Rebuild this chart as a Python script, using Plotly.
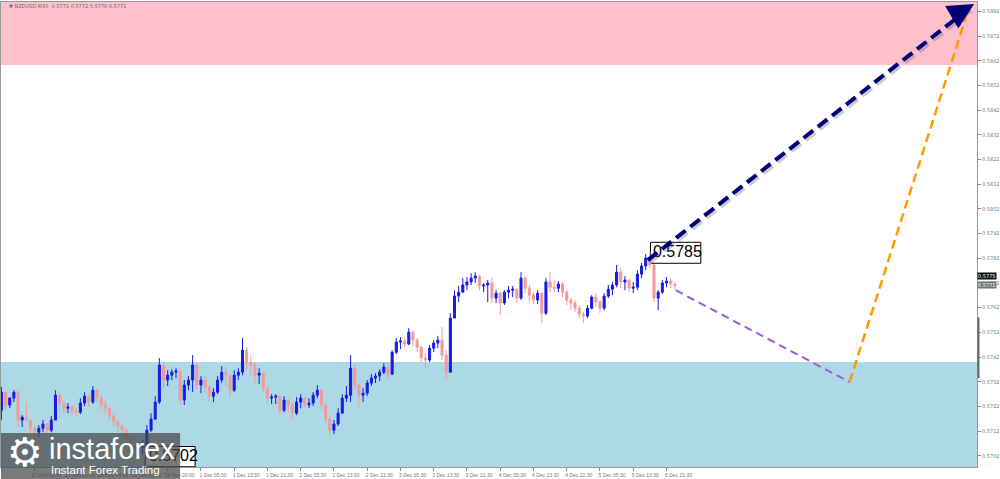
import plotly.graph_objects as go

# ---------------- data ----------------
title_text = "\u25BC NZDUSD,M30  0.5771 0.5772 0.5770 0.5771"

first_open = 0.57205
closes = [
    0.57278, 0.57226, 0.57254, 0.57278, 0.57165, 0.57177, 0.57165, 0.57132, 0.57116, 0.57132,
    0.57149, 0.57124, 0.57165, 0.57266, 0.57234, 0.57213, 0.57218, 0.57201, 0.57197, 0.57234,
    0.57262, 0.57238, 0.57286, 0.57254, 0.57226, 0.57213, 0.57181, 0.57157, 0.57141, 0.57124,
    0.57092, 0.57060, 0.57043, 0.57056, 0.57064, 0.57124, 0.57169, 0.57238, 0.57388, 0.57327,
    0.57347, 0.57359, 0.57363, 0.57246, 0.57307, 0.57327, 0.57388, 0.57307, 0.57327, 0.57299,
    0.57262, 0.57278, 0.57327, 0.57359, 0.57347, 0.57286, 0.57347, 0.57359, 0.57448, 0.57400,
    0.57388, 0.57347, 0.57355, 0.57294, 0.57254, 0.57258, 0.57262, 0.57205, 0.57246, 0.57226,
    0.57193, 0.57238, 0.57254, 0.57226, 0.57234, 0.57266, 0.57286, 0.57226, 0.57169, 0.57124,
    0.57149, 0.57193, 0.57254, 0.57266, 0.57375, 0.57307, 0.57266, 0.57274, 0.57315, 0.57335,
    0.57343, 0.57359, 0.57380, 0.57351, 0.57440, 0.57481, 0.57485, 0.57473, 0.57521, 0.57489,
    0.57460, 0.57416, 0.57408, 0.57456, 0.57477, 0.57489, 0.57428, 0.57359, 0.57578, 0.57667,
    0.57683, 0.57712, 0.57724, 0.57740, 0.57748, 0.57708, 0.57712, 0.57720, 0.57659, 0.57679,
    0.57639, 0.57683, 0.57691, 0.57695, 0.57659, 0.57740, 0.57699, 0.57671, 0.57651, 0.57679,
    0.57598, 0.57724, 0.57703, 0.57699, 0.57716, 0.57683, 0.57651, 0.57639, 0.57618, 0.57594,
    0.57586, 0.57618, 0.57663, 0.57643, 0.57618, 0.57667, 0.57695, 0.57712, 0.57764, 0.57724,
    0.57732, 0.57699, 0.57703, 0.57756, 0.57789, 0.57821, 0.57793, 0.57659, 0.57683, 0.57720,
    0.57728, 0.57716, 0.57710,
]
highs = [
    0.57299, 0.57266, 0.57258, 0.57286, 0.57286, 0.57185, 0.57238, 0.57165, 0.57145, 0.57145,
    0.57165, 0.57153, 0.57181, 0.57286, 0.57274, 0.57246, 0.57234, 0.57226, 0.57213, 0.57254,
    0.57278, 0.57266, 0.57303, 0.57294, 0.57266, 0.57246, 0.57213, 0.57197, 0.57169, 0.57153,
    0.57132, 0.57100, 0.57072, 0.57076, 0.57084, 0.57145, 0.57193, 0.57262, 0.57416, 0.57400,
    0.57367, 0.57371, 0.57375, 0.57371, 0.57327, 0.57343, 0.57428, 0.57388, 0.57343, 0.57347,
    0.57303, 0.57294, 0.57343, 0.57384, 0.57384, 0.57347, 0.57367, 0.57375, 0.57497, 0.57460,
    0.57424, 0.57400, 0.57375, 0.57359, 0.57303, 0.57270, 0.57270, 0.57266, 0.57262, 0.57254,
    0.57234, 0.57258, 0.57270, 0.57258, 0.57254, 0.57278, 0.57307, 0.57294, 0.57238, 0.57181,
    0.57165, 0.57213, 0.57270, 0.57303, 0.57428, 0.57388, 0.57315, 0.57294, 0.57327, 0.57351,
    0.57355, 0.57371, 0.57396, 0.57400, 0.57448, 0.57497, 0.57501, 0.57497, 0.57537, 0.57529,
    0.57497, 0.57465, 0.57436, 0.57469, 0.57489, 0.57505, 0.57542, 0.57448, 0.57598, 0.57691,
    0.57708, 0.57740, 0.57744, 0.57760, 0.57764, 0.57748, 0.57720, 0.57732, 0.57740, 0.57691,
    0.57683, 0.57691, 0.57708, 0.57708, 0.57699, 0.57764, 0.57748, 0.57712, 0.57683, 0.57691,
    0.57679, 0.57740, 0.57764, 0.57732, 0.57728, 0.57724, 0.57691, 0.57659, 0.57651, 0.57631,
    0.57602, 0.57631, 0.57671, 0.57679, 0.57651, 0.57679, 0.57712, 0.57724, 0.57793, 0.57780,
    0.57748, 0.57732, 0.57724, 0.57772, 0.57801, 0.57837, 0.57850, 0.57797, 0.57691, 0.57732,
    0.57744, 0.57740, 0.57725,
]
lows = [
    0.57165, 0.57205, 0.57213, 0.57238, 0.57137, 0.57137, 0.57157, 0.57112, 0.57084, 0.57096,
    0.57116, 0.57108, 0.57116, 0.57165, 0.57205, 0.57193, 0.57193, 0.57185, 0.57181, 0.57189,
    0.57222, 0.57218, 0.57230, 0.57234, 0.57205, 0.57189, 0.57165, 0.57137, 0.57116, 0.57104,
    0.57076, 0.57043, 0.57020, 0.57023, 0.57028, 0.57060, 0.57116, 0.57165, 0.57230, 0.57294,
    0.57303, 0.57327, 0.57335, 0.57226, 0.57226, 0.57286, 0.57278, 0.57286, 0.57274, 0.57278,
    0.57238, 0.57238, 0.57270, 0.57315, 0.57299, 0.57258, 0.57278, 0.57327, 0.57347, 0.57367,
    0.57347, 0.57315, 0.57311, 0.57278, 0.57234, 0.57230, 0.57230, 0.57189, 0.57197, 0.57197,
    0.57169, 0.57185, 0.57213, 0.57213, 0.57213, 0.57222, 0.57254, 0.57205, 0.57153, 0.57096,
    0.57108, 0.57141, 0.57193, 0.57238, 0.57238, 0.57286, 0.57218, 0.57238, 0.57262, 0.57303,
    0.57315, 0.57323, 0.57351, 0.57335, 0.57347, 0.57432, 0.57452, 0.57456, 0.57469, 0.57465,
    0.57440, 0.57396, 0.57380, 0.57400, 0.57440, 0.57456, 0.57408, 0.57335, 0.57359, 0.57578,
    0.57643, 0.57683, 0.57691, 0.57712, 0.57720, 0.57691, 0.57683, 0.57643, 0.57639, 0.57639,
    0.57590, 0.57631, 0.57659, 0.57663, 0.57639, 0.57651, 0.57679, 0.57643, 0.57635, 0.57635,
    0.57558, 0.57590, 0.57683, 0.57683, 0.57683, 0.57663, 0.57631, 0.57610, 0.57602, 0.57578,
    0.57558, 0.57578, 0.57614, 0.57622, 0.57598, 0.57610, 0.57659, 0.57671, 0.57703, 0.57699,
    0.57691, 0.57683, 0.57679, 0.57691, 0.57740, 0.57772, 0.57780, 0.57643, 0.57610, 0.57675,
    0.57703, 0.57699, 0.57695,
]
opens = [first_open] + closes[:-1]
bars = [2 * k for k in range(len(closes))]          # M30 slot index of each candle

x_tick_bars = [0, 16, 32, 48, 64, 80, 96, 112, 128, 144, 160, 176, 192, 208, 224, 240,
               256, 272, 288, 304, 320]
x_tick_labels = ["27 Nov 2024", "27 Nov 12:00", "27 Nov 20:00", "28 Nov 04:00",
                 "28 Nov 12:00", "28 Nov 20:00", "1 Dec 05:30", "1 Dec 13:30",
                 "1 Dec 21:30", "2 Dec 05:30", "2 Dec 13:30", "2 Dec 21:30",
                 "3 Dec 05:30", "3 Dec 13:30", "3 Dec 21:30", "4 Dec 05:30",
                 "4 Dec 13:30", "4 Dec 21:30", "5 Dec 05:30", "5 Dec 13:30",
                 "5 Dec 21:30"]
y_tick_vals = [0.5702, 0.5712, 0.5722, 0.5732, 0.5742, 0.5752, 0.5762, 0.5772,
               0.5782, 0.5792, 0.5802, 0.5812, 0.5822, 0.5832, 0.5842, 0.5852,
               0.5862, 0.5872, 0.5882]
y_tick_text = ["%.4f" % v for v in y_tick_vals]

# zones (price bounds)
resistance_zone = [0.58603, 0.58900]
support_zone = [0.56900, 0.57400]

# forecast wave lines (bar index, price)
main_wave_x = [311, 466]
main_wave_y = [0.57813, 0.58835]
main_wave_tip = [468, 0.58850]
corr_wave_x = [324.4, 408.1]
corr_wave_y = [0.57691, 0.57319]
next_wave_x = [408.1, 464.1]
next_wave_y = [0.57319, 0.58797]

peak_label = "0.5785"
low_label = "0.5702"
price_box_1 = 0.5775
price_box_2 = 0.5771

# --------------- figure ---------------
X_MIN, X_MAX = -0.2, 469.4
Y_MIN, Y_MAX = 0.56975, 0.58858

fig = go.Figure()

fig.add_trace(go.Candlestick(
    x=bars, open=opens, high=highs, low=lows, close=closes,
    increasing=dict(line=dict(color="#1a1ae6", width=1), fillcolor="#1a1ae6"),
    decreasing=dict(line=dict(color="#f29a9a", width=1), fillcolor="#f29a9a"),
    whiskerwidth=0, showlegend=False, hoverinfo="skip",
))

# text of the wave labels (boxes are shapes below)
fig.add_trace(go.Scatter(
    x=[313.5, 71], y=[0.57841, 0.57016], mode="text",
    text=[peak_label, low_label], textposition="middle right",
    textfont=dict(family="Liberation Sans, Arial", size=16, color="black"),
    showlegend=False, hoverinfo="skip",
))

# shadow of the main arrow
fig.add_trace(go.Scatter(
    x=[v + 1.0 for v in main_wave_x], y=[v - 0.00009 for v in main_wave_y],
    mode="lines", line=dict(color="rgba(90,90,90,0.30)", width=4, dash="12px,6px"),
    showlegend=False, hoverinfo="skip",
))
fig.add_trace(go.Scatter(
    x=corr_wave_x, y=corr_wave_y, mode="lines",
    line=dict(color="#9a5fd6", width=2, dash="8px,5px"),
    showlegend=False, hoverinfo="skip",
))
fig.add_trace(go.Scatter(
    x=next_wave_x, y=next_wave_y, mode="lines",
    line=dict(color="#ff9a00", width=2.5, dash="9px,5px"),
    showlegend=False, hoverinfo="skip",
))
fig.add_trace(go.Scatter(
    x=main_wave_x, y=main_wave_y, mode="lines",
    line=dict(color="#00007a", width=4, dash="12px,6px"),
    showlegend=False, hoverinfo="skip",
))

shapes = [
    dict(type="rect", xref="paper", yref="y", x0=0, x1=1,
         y0=resistance_zone[0], y1=resistance_zone[1],
         fillcolor="#ffc0cb", line=dict(width=0), layer="below"),
    dict(type="rect", xref="paper", yref="y", x0=0, x1=1,
         y0=support_zone[0], y1=support_zone[1],
         fillcolor="#add8e6", line=dict(width=0), layer="below"),
    # label boxes
    dict(type="rect", xref="x", yref="y", x0=312.3, x1=336.5, y0=0.57800, y1=0.57885,
         fillcolor="white", line=dict(color="black", width=1), layer="below"),
    dict(type="rect", xref="x", yref="y", x0=69.2, x1=93.2, y0=0.56976, y1=0.57058,
         fillcolor="white", line=dict(color="black", width=1), layer="below"),
    # instaforex logo plate
    dict(type="rect", xref="paper", yref="paper", x0=0, x1=180 / 981,
         y0=(467 - 479) / 465, y1=(467 - 433) / 465,
         fillcolor="rgba(70,70,70,0.72)", line=dict(width=0), layer="above"),
    # marker on price scale
    dict(type="line", xref="paper", yref="y", x0=1.0015, x1=1.0015,
         y0=0.57581, y1=0.57335, line=dict(color="#666666", width=2)),
]

annotations = [
    dict(x=main_wave_tip[0], y=main_wave_tip[1], ax=main_wave_x[1] - 4, ay=main_wave_y[1] - 0.00015,
         xref="x", yref="y", axref="x", ayref="y", text="", showarrow=True,
         arrowhead=2, arrowsize=1.3, arrowwidth=4, arrowcolor="#00007a"),
    dict(x=0.006, y=(467 - 6) / 465, xref="paper", yref="paper", text=title_text,
         showarrow=False, xanchor="left", yanchor="middle",
         font=dict(family="DejaVu Sans", size=5, color="#666666")),
    dict(x=1.0, y=price_box_1, xref="paper", yref="y", text="%.4f" % price_box_1,
         showarrow=False, xanchor="left", yanchor="middle", bgcolor="#111111",
         borderpad=0, font=dict(family="DejaVu Sans", size=5, color="white")),
    dict(x=1.0, y=price_box_2, xref="paper", yref="y", text="%.4f" % price_box_2,
         showarrow=False, xanchor="left", yanchor="middle", bgcolor="#777777",
         borderpad=0, font=dict(family="DejaVu Sans", size=5, color="white")),
    # logo texts
    dict(x=24 / 981, y=(467 - 452) / 465, xref="paper", yref="paper", text="\u2699",
         showarrow=False, xanchor="center", yanchor="middle",
         font=dict(family="DejaVu Sans", size=40, color="white")),
    dict(x=46 / 981, y=(467 - 449) / 465, xref="paper", yref="paper", text="instaforex",
         showarrow=False, xanchor="left", yanchor="middle",
         font=dict(family="Liberation Sans, Arial", size=29, color="white")),
    dict(x=48 / 981, y=(467 - 470) / 465, xref="paper", yref="paper",
         text="Instant Forex Trading", showarrow=False, xanchor="left", yanchor="middle",
         font=dict(family="Liberation Sans, Arial", size=11.5, color="white")),
]

fig.update_layout(
    width=1000, height=479, autosize=False,
    margin=dict(l=0, r=19, t=2, b=12, pad=0),
    paper_bgcolor="white", plot_bgcolor="white",
    shapes=shapes, annotations=annotations,
    showlegend=False,
    xaxis=dict(range=[X_MIN, X_MAX], rangeslider=dict(visible=False),
               showgrid=False, zeroline=False, tickmode="array",
               tickvals=x_tick_bars, ticktext=x_tick_labels, tickangle=0,
               ticks="outside", ticklen=3, tickcolor="#888888",
               tickfont=dict(family="Liberation Sans, Arial", size=5, color="#777777"),
               ticklabelshift=12, ticklabelstandoff=0,
               showline=True, linecolor="#999999", linewidth=1, mirror=True),
    yaxis=dict(range=[Y_MIN, Y_MAX], side="right", showgrid=False, zeroline=False,
               tickmode="array", tickvals=y_tick_vals, ticktext=y_tick_text,
               ticks="outside", ticklen=3, tickcolor="#888888",
               tickfont=dict(family="DejaVu Sans", size=5, color="#777777"),
               showline=True, linecolor="#999999", linewidth=1, mirror=True),
)

fig.write_html(
    "out.html",
    config={"displayModeBar": False},
    post_script="document.body.style.margin='0';document.body.style.overflow='hidden';",
)
